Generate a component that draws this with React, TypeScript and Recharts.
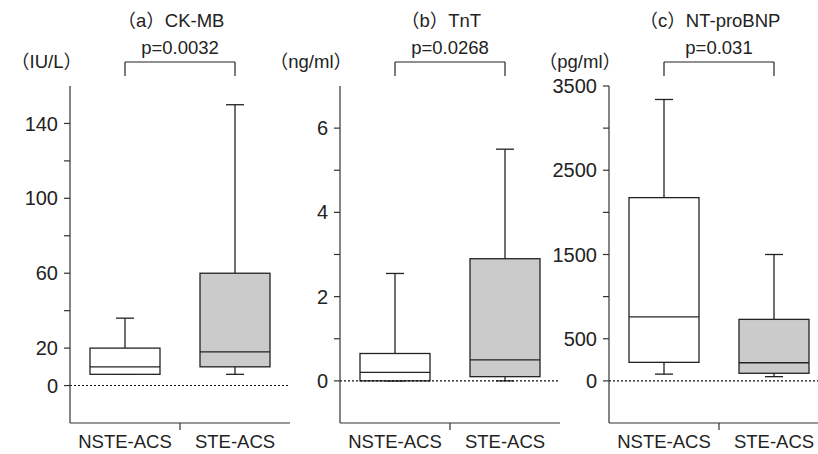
import React from 'react';
import { ComposedChart, Bar, XAxis, YAxis, ReferenceLine } from 'recharts';

const groups = ['NSTE-ACS', 'STE-ACS'];

// (a) CK-MB, IU/L
const ckmbMin = [6, 6];
const ckmbQ1 = [6, 10];
const ckmbMedian = [10, 18];
const ckmbQ3 = [20, 60];
const ckmbMax = [36, 150];
const ckmbTicks = [0, 20, 40, 60, 80, 100, 120, 140];
const ckmbLabels = [0, 20, 60, 100, 140];

// (b) TnT, ng/ml
const tntMin = [0, 0];
const tntQ1 = [0, 0.1];
const tntMedian = [0.2, 0.5];
const tntQ3 = [0.65, 2.9];
const tntMax = [2.55, 5.5];
const tntTicks = [0, 1, 2, 3, 4, 5, 6];
const tntLabels = [0, 2, 4, 6];

// (c) NT-proBNP, pg/ml
const bnpMin = [80, 50];
const bnpQ1 = [220, 90];
const bnpMedian = [760, 215];
const bnpQ3 = [2175, 730];
const bnpMax = [3340, 1500];
const bnpTicks = [0, 500, 1000, 1500, 2000, 2500, 3000, 3500];
const bnpLabels = [0, 500, 1500, 2500, 3500];

const titles = ['（a）CK-MB', '（b）TnT', '（c）NT-proBNP'];
const pValues = ['p=0.0032', 'p=0.0268', 'p=0.031'];
const units = ['（IU/L）', '（ng/ml）', '（pg/ml）'];

const FONT = "'Liberation Sans', Arial, 'Noto Sans CJK JP', sans-serif";
const INK = '#222';
const BOX_FILLS = ['#ffffff', '#cbcbcb'];
const PLOT_TOP = 86;
const PLOT_H = 337;
const W = 300;
const H = 454;

const buildRows = (mins: number[], q1s: number[], meds: number[], q3s: number[], maxs: number[]) =>
  groups.map((name, i) => ({
    name,
    slot: i + 0.5,
    range: [mins[i], maxs[i]],
    min: mins[i],
    q1: q1s[i],
    median: meds[i],
    q3: q3s[i],
    max: maxs[i],
  }));

const panels = [
  { rows: buildRows(ckmbMin, ckmbQ1, ckmbMedian, ckmbQ3, ckmbMax), domain: [-20, 160], ticks: ckmbTicks, labels: ckmbLabels, left: 0 },
  { rows: buildRows(tntMin, tntQ1, tntMedian, tntQ3, tntMax), domain: [-1, 7], ticks: tntTicks, labels: tntLabels, left: 270 },
  { rows: buildRows(bnpMin, bnpQ1, bnpMedian, bnpQ3, bnpMax), domain: [-500, 3500], ticks: bnpTicks, labels: bnpLabels, left: 539 },
];

// box + whiskers, scaled from the [min, max] range bar recharts lays out
const BoxShape = (props: any) => {
  const { x, y, width, height, payload, index } = props;
  const { min, q1, median, q3, max } = payload;
  const top = Math.min(y, y + height);
  const k = Math.abs(height) / (max - min);
  const py = (v: number) => top + (max - v) * k;
  const cx = x + width / 2;
  const cap = 9;
  const line = { stroke: INK, strokeWidth: 1.3 };
  return (
    <g>
      <line x1={cx} x2={cx} y1={py(max)} y2={py(min)} {...line} />
      <line x1={cx - cap} x2={cx + cap} y1={py(max)} y2={py(max)} {...line} />
      <line x1={cx - cap} x2={cx + cap} y1={py(min)} y2={py(min)} {...line} />
      <rect x={x} y={py(q3)} width={width} height={py(q1) - py(q3)} fill={BOX_FILLS[index]} {...line} />
      <line x1={x} x2={x + width} y1={py(median)} y2={py(median)} {...line} />
    </g>
  );
};

const Panel = ({ p, i }: { p: (typeof panels)[number]; i: number }) => {
  const [lo, hi] = p.domain;
  const span = hi - lo;
  const bracketY = hi + (span * 24) / PLOT_H;
  const legY = hi + (span * 10) / PLOT_H;
  const tickEnd = lo - (span * 7) / PLOT_H;
  return (
    <div style={{ position: 'absolute', left: p.left, top: 0, width: W, height: H }}>
      <ComposedChart width={W} height={H} data={p.rows} margin={{ top: PLOT_TOP, right: 10, bottom: 0, left: 10 }}>
        <XAxis xAxisId="mid" type="number" dataKey="slot" domain={[0, 2]} allowDataOverflow hide />
        <XAxis
          xAxisId="cat"
          dataKey="name"
          height={31}
          tickLine={false}
          tickSize={6}
          tickMargin={6}
          axisLine={{ stroke: '#333', strokeWidth: 1.2 }}
          tick={{ fill: INK, fontSize: 18.5 }}
        />
        <YAxis
          type="number"
          domain={p.domain}
          allowDataOverflow
          ticks={p.ticks}
          interval={0}
          tickFormatter={(v: number) => (p.labels.includes(v) ? String(v) : '')}
          width={60}
          tickSize={6}
          tickMargin={6}
          axisLine={{ stroke: '#333', strokeWidth: 1.2 }}
          tickLine={{ stroke: '#333', strokeWidth: 1.2 }}
          tick={{ fill: INK, fontSize: 20 }}
        />
        <ReferenceLine xAxisId="cat" y={0} stroke="#111" strokeDasharray="2 2" strokeWidth={1.1} />
        <Bar xAxisId="cat" dataKey="range" barSize={70} shape={<BoxShape />} isAnimationActive={false} />
        <ReferenceLine
          xAxisId="mid"
          ifOverflow="visible"
          segment={[{ x: 1, y: lo }, { x: 1, y: tickEnd }]}
          stroke="#333"
          strokeWidth={1.2}
        />
        <ReferenceLine
          xAxisId="cat"
          ifOverflow="visible"
          segment={[{ x: groups[0], y: bracketY }, { x: groups[1], y: bracketY }]}
          stroke={INK}
          strokeWidth={1.2}
        />
        <ReferenceLine
          xAxisId="cat"
          ifOverflow="visible"
          segment={[{ x: groups[0], y: bracketY }, { x: groups[0], y: legY }]}
          stroke={INK}
          strokeWidth={1.2}
        />
        <ReferenceLine
          xAxisId="cat"
          ifOverflow="visible"
          segment={[{ x: groups[1], y: bracketY }, { x: groups[1], y: legY }]}
          stroke={INK}
          strokeWidth={1.2}
        />
      </ComposedChart>
      <svg width={W} height={H} style={{ position: 'absolute', left: 0, top: 0, overflow: 'visible', pointerEvents: 'none' }}>
        <text x={171} y={27} textAnchor="middle" fontSize={18.5} fill={INK}>{titles[i]}</text>
        <text x={180} y={53.5} textAnchor="middle" fontSize={18.5} fill={INK}>{pValues[i]}</text>
        <text x={82} y={68} textAnchor="end" fontSize={18.5} fill={INK}>{units[i]}</text>
      </svg>
    </div>
  );
}

export default function App() {
  return (
    <div
      style={{
        position: 'absolute',
        left: 0,
        top: 0,
        width: 818,
        height: 454,
        overflow: 'hidden',
        background: '#fff',
        fontFamily: FONT,
      }}
    >
      {panels.map((p, i) => (
        <Panel key={i} p={p} i={i} />
      ))}
    </div>
  );
}
